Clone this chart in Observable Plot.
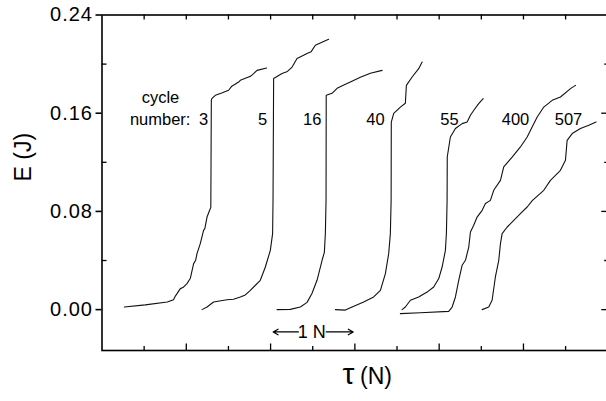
<!DOCTYPE html>
<html><head><meta charset="utf-8">
<script src="https://cdn.jsdelivr.net/npm/d3@7"></script>
<script src="https://cdn.jsdelivr.net/npm/@observablehq/plot@0.6"></script>
<style>
html,body{margin:0;padding:0;background:#fff;overflow:hidden}
g[aria-label="y-axis tick label"] text{letter-spacing:1px}
</style>
</head><body><div id="chart"></div>
<script>
// ---- data (tau in N, E in J) ----
const cycles = ["3", "5", "16", "40", "55", "400", "507"];

const tau_3 = [0.264, 0.513, 0.774, 0.849, 0.870, 0.890, 0.929, 0.960, 1.008, 1.047, 1.087, 1.110, 1.127, 1.166, 1.205, 1.220, 1.246, 1.277, 1.291, 1.297, 1.303, 1.344, 1.420, 1.502, 1.540, 1.621, 1.641, 1.739, 1.760, 1.799, 1.839, 1.953];
const E_3   = [0.0021, 0.0039, 0.0062, 0.0081, 0.0110, 0.0130, 0.0171, 0.0180, 0.0212, 0.0253, 0.0375, 0.0400, 0.0456, 0.0538, 0.0646, 0.0660, 0.0754, 0.0809, 0.0833, 0.1705, 0.1719, 0.1746, 0.1765, 0.1787, 0.1820, 0.1854, 0.1868, 0.1895, 0.1900, 0.1923, 0.1949, 0.1968];

const tau_5 = [1.186, 1.246, 1.324, 1.483, 1.560, 1.641, 1.700, 1.760, 1.878, 1.938, 1.997, 2.024, 2.029, 2.036, 2.136, 2.200, 2.255, 2.314, 2.433, 2.480, 2.531, 2.689];
const E_5   = [0.0000, 0.0021, 0.0062, 0.0081, 0.0085, 0.0103, 0.0120, 0.0157, 0.0239, 0.0347, 0.0483, 0.0619, 0.0890, 0.1882, 0.1923, 0.1940, 0.1976, 0.2045, 0.2086, 0.2100, 0.2153, 0.2202];

const tau_16 = [2.077, 2.234, 2.353, 2.433, 2.492, 2.551, 2.611, 2.638, 2.650, 2.658, 2.660, 2.729, 2.789, 2.863, 2.946, 3.065, 3.184, 3.323];
const E_16   = [0.0000, 0.0002, 0.0021, 0.0059, 0.0133, 0.0239, 0.0402, 0.0467, 0.0622, 0.0890, 0.1746, 0.1762, 0.1803, 0.1827, 0.1854, 0.1892, 0.1925, 0.1949];

const tau_40 = [2.769, 2.887, 2.967, 3.104, 3.223, 3.303, 3.362, 3.401, 3.421, 3.430, 3.432, 3.461, 3.540, 3.599, 3.611, 3.679, 3.757, 3.798];
const E_40   = [0.0000, -0.0004, 0.0021, 0.0062, 0.0103, 0.0157, 0.0293, 0.0456, 0.0619, 0.0890, 0.1528, 0.1599, 0.1650, 0.1681, 0.1827, 0.1895, 0.1963, 0.2017];

const tau_55 = [3.560, 3.599, 3.659, 3.757, 3.857, 3.935, 3.995, 4.035, 4.074, 4.086, 4.094, 4.096, 4.133, 4.193, 4.272, 4.332, 4.371, 4.411, 4.469, 4.522];
const E_55   = [0.0000, 0.0021, 0.0076, 0.0103, 0.0143, 0.0184, 0.0253, 0.0347, 0.0483, 0.0622, 0.0890, 0.1243, 0.1406, 0.1475, 0.1515, 0.1528, 0.1583, 0.1624, 0.1678, 0.1719];

const tau_400 = [3.540, 3.777, 4.113, 4.154, 4.193, 4.232, 4.272, 4.312, 4.351, 4.371, 4.410, 4.450, 4.510, 4.549, 4.608, 4.647, 4.727, 4.766, 4.866, 4.964, 5.044, 5.103, 5.163, 5.241, 5.341, 5.439, 5.558, 5.617];
const E_400   = [-0.0033, -0.0026, -0.0014, 0.0021, 0.0103, 0.0239, 0.0361, 0.0402, 0.0510, 0.0632, 0.0687, 0.0754, 0.0809, 0.0864, 0.0890, 0.0972, 0.1053, 0.1162, 0.1243, 0.1325, 0.1406, 0.1488, 0.1569, 0.1650, 0.1705, 0.1732, 0.1800, 0.1827];

const tau_507 = [4.510, 4.588, 4.628, 4.667, 4.707, 4.727, 4.747, 4.807, 4.885, 4.964, 5.044, 5.107, 5.241, 5.320, 5.439, 5.498, 5.518, 5.578, 5.676, 5.775, 5.861];
const E_507   = [0.0000, 0.0021, 0.0076, 0.0266, 0.0402, 0.0538, 0.0619, 0.0673, 0.0727, 0.0782, 0.0836, 0.0890, 0.0972, 0.1053, 0.1135, 0.1216, 0.1379, 0.1434, 0.1475, 0.1501, 0.1528];

// label positions of the cycle numbers
const labelTau = [1.204, 1.904, 2.494, 3.245, 4.123, 4.906, 5.534];
const labelE = 0.155;

// tick values
const yMajor = [0, 0.08, 0.16, 0.24];
const yMinor = [0.04, 0.12, 0.20];
const yRightMajor = [0, 0.08, 0.16];
const xMajor = [1, 2, 3, 4, 5];
const xMinor = [0.5, 1.5, 2.5, 3.5, 4.5, 5.5];
const xTop = [0.5, 1, 1.5, 2, 2.5, 3, 3.5, 4, 4.5, 5, 5.5];

// scale bar "1 N"
const barLeft = [2.33, 2.031];
const barRight = [2.66, 2.98];
const barE = -0.0182;
const barMid = 2.489;

// ---- build table ----
const series = [tau_3, tau_5, tau_16, tau_40, tau_55, tau_400, tau_507];
const energies = [E_3, E_5, E_16, E_40, E_55, E_400, E_507];
const points = cycles.flatMap((c, i) => series[i].map((t, j) => ({cycle: c, tau: t, E: energies[i][j]})));
const labels = cycles.map((c, i) => ({cycle: c, tau: labelTau[i]}));

const FONT = '"Liberation Sans", Arial, Helvetica, sans-serif';
const W = 606, H = 401, mL = 101.5, mR = -1.25, mT = 14.5, mB = 51;
const innerW = W - mL - mR, innerH = H - mT - mB;

const chart = Plot.plot({
  width: W, height: H,
  marginLeft: mL, marginRight: mR, marginTop: mT, marginBottom: mB,
  x: {domain: [0, 6], axis: null},
  y: {domain: [-0.0333, 0.24]},
  style: {fontFamily: FONT, background: "white", color: "black", overflow: "hidden"},
  marks: [
    Plot.frame({stroke: "black", strokeWidth: 1.6}),
    Plot.axisY(yMajor, {anchor: "left", tickSize: 6, tickPadding: 3, strokeWidth: 1.6,
      tickFormat: d => d.toFixed(2), fontSize: 20, label: null}),
    Plot.ruleY(yMinor, {insetRight: innerW - 5, stroke: "black", strokeWidth: 1.3}),
    Plot.ruleY(yRightMajor, {insetLeft: innerW - 6, stroke: "black", strokeWidth: 1.3}),
    Plot.ruleY(yMinor, {insetLeft: innerW - 3, stroke: "black", strokeWidth: 1.3}),
    Plot.ruleX(xMajor, {insetTop: innerH - 6.5, stroke: "black", strokeWidth: 1.3}),
    Plot.ruleX(xMinor, {insetTop: innerH - 4, stroke: "black", strokeWidth: 1.3}),
    Plot.ruleX(xTop, {insetBottom: innerH - 5, stroke: "black", strokeWidth: 1.3}),
    Plot.line(points, {x: "tau", y: "E", z: "cycle", stroke: "#111", strokeWidth: 1.1}),
    Plot.text(labels, {x: "tau", y: () => labelE, text: "cycle", fontSize: 16.5, fill: "black"}),
    Plot.text(["cycle"], {x: () => 0.694, y: () => 0.173, text: d => d, fontSize: 16.5, fill: "black"}),
    Plot.text(["number:"], {x: () => 0.690, y: () => labelE, text: d => d, fontSize: 16.5, fill: "black"}),
    Plot.arrow([0], {x1: () => barLeft[0], x2: () => barLeft[1], y1: () => barE, y2: () => barE, stroke: "black", strokeWidth: 1.2, headLength: 7}),
    Plot.arrow([0], {x1: () => barRight[0], x2: () => barRight[1], y1: () => barE, y2: () => barE, stroke: "black", strokeWidth: 1.2, headLength: 7}),
    Plot.text(["1 N"], {x: () => barMid, y: () => barE, text: d => d, fontSize: 18, fill: "black"}),
    Plot.text(["τ"], {x: () => 2.924, frameAnchor: "bottom", dy: 33, text: d => d, fontSize: 30, fill: "black"}),
    Plot.text(["(N)"], {x: () => 3.251, frameAnchor: "bottom", dy: 33.5, text: d => d, fontSize: 23, fill: "black"}),
    Plot.text(["E (J)"], {y: () => 0.1044, frameAnchor: "left", dx: -78, rotate: -90, text: d => d, fontSize: 23, fill: "black"})
  ]
});
document.getElementById("chart").appendChild(chart);
</script></body></html>
